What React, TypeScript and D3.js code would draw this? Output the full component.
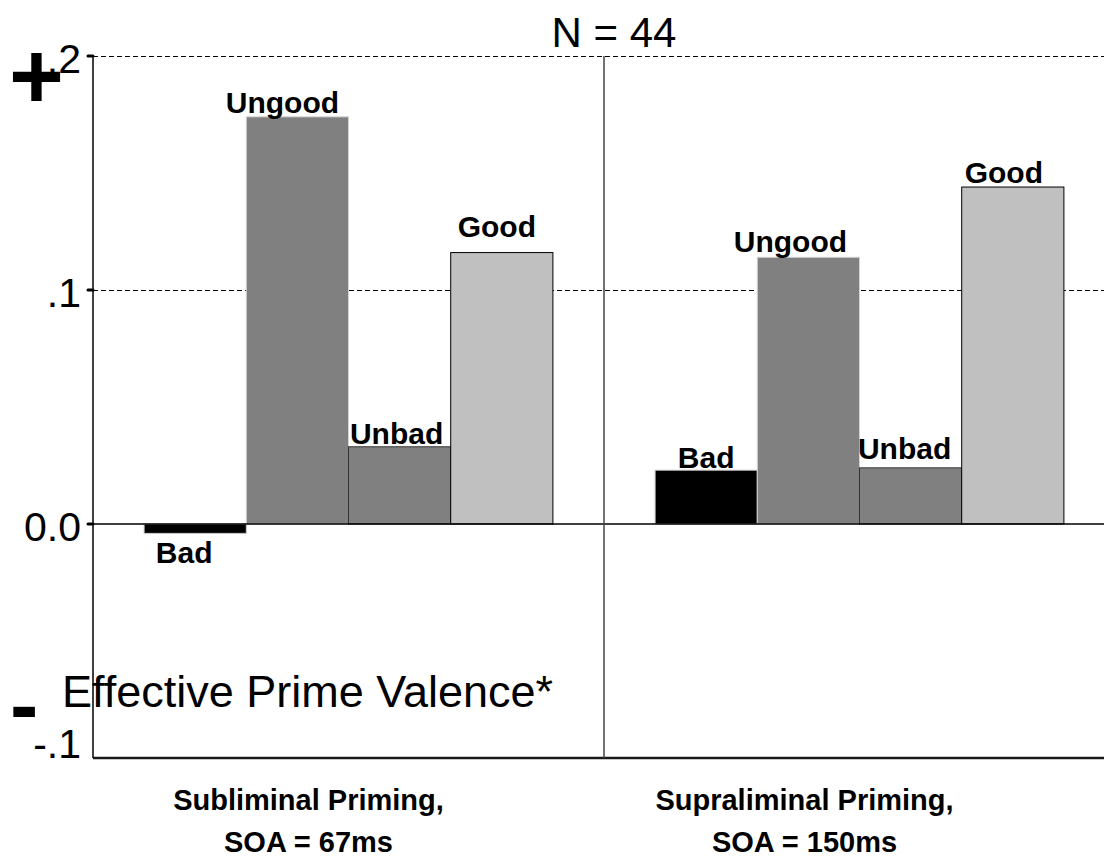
import React, { useEffect, useRef } from 'react'
import * as d3 from 'd3'

// data
const primes = ['Bad', 'Ungood', 'Unbad', 'Good']
const panelTitles = ['Subliminal Priming,', 'Supraliminal Priming,']
const panelSoa = ['SOA = 67ms', 'SOA = 150ms']
const subliminal = [-0.004, 0.174, 0.033, 0.116]
const supraliminal = [0.023, 0.114, 0.024, 0.144]
const yTicks = [0.2, 0.1, 0, -0.1]
const yTickLabels = ['.2', '.1', '0.0', '-.1']

const fills = ['#000000', '#808080', '#808080', '#c0c0c0']
const strokes = ['#c8c8c8', '#d4d4d4', '#333333', '#000000']
// hand placement of the bar labels in the original
const labelDx = [[-11, -15, -3, -5], [0, -18, -6, -9]]
const labelGap = [[0, 4, 3, 16], [2, 5, 9, 4]]
const panelLabelDx = [-40, -55]

const W = 1104
const H = 861
const FONT = '"Liberation Sans", Arial, Helvetica, sans-serif'

export default function App() {
  const ref = useRef<SVGSVGElement>(null)

  useEffect(() => {
    const svg = d3.select(ref.current)
    svg.selectAll('*').remove()

    const left = 93, right = 1115, top = 56, bottom = 758
    const series = [subliminal, supraliminal]

    const y = d3.scaleLinear().domain([-0.1, 0.2]).range([bottom, top])
    const xPanel = d3.scaleBand<number>().domain([0, 1]).range([left, right]).padding(0)
    const xPrime = d3.scaleBand<string>()
      .domain(primes)
      .range([0, xPanel.bandwidth()])
      .paddingInner(0)
      .paddingOuter(0.5)

    // dashed grid at .1 and .2
    svg.append('g')
      .selectAll('line')
      .data(yTicks.filter(t => t > 0))
      .enter()
      .append('line')
      .attr('x1', left).attr('x2', W)
      .attr('y1', d => Math.round(y(d)) + 0.5).attr('y2', d => Math.round(y(d)) + 0.5)
      .attr('stroke', '#000')
      .attr('stroke-width', 1)
      .attr('stroke-dasharray', '5,3')

    // bars
    const g = svg.append('g')
    series.forEach((vals, p) => {
      vals.forEach((v, i) => {
        const x0 = xPanel(p)! + xPrime(primes[i])!
        g.append('rect')
          .attr('x', x0)
          .attr('y', y(Math.max(0, v)))
          .attr('width', xPrime.bandwidth())
          .attr('height', Math.abs(y(v) - y(0)))
          .attr('fill', fills[i])
          .attr('stroke', strokes[i])
          .attr('stroke-width', 1)

        const cx = x0 + xPrime.bandwidth() / 2 + labelDx[p][i]
        g.append('text')
          .attr('x', cx)
          .attr('y', v >= 0 ? y(v) - labelGap[p][i] : y(v) + 30)
          .attr('text-anchor', 'middle')
          .attr('font-family', FONT)
          .attr('font-weight', 'bold')
          .attr('font-size', 30)
          .text(primes[i])
      })
    })

    // zero line, axes, divider
    svg.append('line')
      .attr('x1', left).attr('x2', W)
      .attr('y1', y(0)).attr('y2', y(0))
      .attr('stroke', '#000').attr('stroke-width', 1.5)
    svg.append('line')
      .attr('x1', left).attr('x2', W)
      .attr('y1', y(-0.1)).attr('y2', y(-0.1))
      .attr('stroke', '#1a1a1a').attr('stroke-width', 2.5)
    svg.append('line')
      .attr('x1', left).attr('x2', left)
      .attr('y1', top).attr('y2', bottom)
      .attr('stroke', '#000').attr('stroke-width', 1.5)
    svg.append('line')
      .attr('x1', xPanel(1)!).attr('x2', xPanel(1)!)
      .attr('y1', top).attr('y2', bottom)
      .attr('stroke', '#444').attr('stroke-width', 1.5)

    // y ticks and labels
    const ty = svg.append('g')
    ty.selectAll('line')
      .data(yTicks.filter(t => t > -0.1))
      .enter()
      .append('line')
      .attr('x1', left - 5).attr('x2', left)
      .attr('y1', d => y(d)).attr('y2', d => y(d))
      .attr('stroke', '#000')
      .attr('stroke-width', 3)
      .attr('stroke-linecap', 'round')
    ty.selectAll('text')
      .data(yTicks)
      .enter()
      .append('text')
      .attr('x', 81)
      .attr('y', d => y(d) + (d === -0.1 ? 0 : 17))
      .attr('text-anchor', 'end')
      .attr('font-family', FONT)
      .attr('font-size', 41)
      .text((d, i) => yTickLabels[i])

    // big plus / minus signs and axis title
    svg.append('text')
      .attr('x', 9).attr('y', 108)
      .attr('font-family', FONT).attr('font-weight', 'bold').attr('font-size', 94)
      .text('+')
    svg.append('text')
      .attr('x', 10).attr('y', 734)
      .attr('font-family', FONT).attr('font-weight', 'bold').attr('font-size', 85)
      .text('-')
    svg.append('text')
      .attr('x', 62).attr('y', 707)
      .attr('font-family', FONT).attr('font-size', 45)
      .text('Effective Prime Valence*')

    svg.append('text')
      .attr('x', 614).attr('y', 47)
      .attr('text-anchor', 'middle')
      .attr('font-family', FONT).attr('font-size', 42)
      .text('N = 44')

    // panel labels
    panelTitles.forEach((t, p) => {
      const cx = xPanel(p)! + xPanel.bandwidth() / 2 + panelLabelDx[p]
      const txt = svg.append('text')
        .attr('text-anchor', 'middle')
        .attr('font-family', FONT)
        .attr('font-weight', 'bold')
        .attr('font-size', 29)
      txt.append('tspan').attr('x', cx).attr('y', 810).text(t)
      txt.append('tspan').attr('x', cx).attr('y', 852).text(panelSoa[p])
    })
  }, [])

  return (
    <svg
      ref={ref}
      width={W}
      height={H}
      style={{ position: 'absolute', left: 0, top: 0, background: '#fff' }}
    />
  )
}
